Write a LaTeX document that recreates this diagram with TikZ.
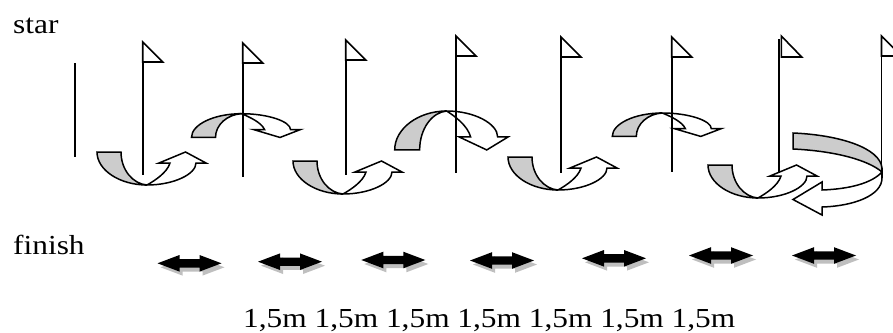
\documentclass[tikz,border=0pt]{standalone}
\usepackage{fontspec}
\setmainfont{Liberation Serif}
\tikzset{
  pole/.style={line width=1.9pt},
  flagtri/.style={draw=black, fill=white, line width=1.6pt},
  band/.style={draw=black, fill=black!20, line width=1.5pt},
  face/.style={draw=black, fill=white, line width=1.5pt},
  dblarrow/.style={fill=black},
  dblshadow/.style={fill=black!25},
  txt/.style={font=\fontsize{27.5}{30}\selectfont, inner sep=0pt, xscale=1.14, anchor=base west}
}
% curved band arrow: gray back strip on the left, white arrow on the right;
% #1,#2 = meeting point, #3,#4 = x and y scale (negative y scale turns it into an arch)
\newcommand\bandarrow[4]{%
  \begin{scope}[shift={(#1,#2)}, xscale=#3, yscale=#4]
    \filldraw[band] (-50,-33) .. controls (-50,-15) and (-27.5,0) .. (0,0)
      .. controls (-14,-1) and (-26,-15) .. (-26,-33) -- cycle;
    \filldraw[face] (0,0) .. controls (27,0) and (49,-11) .. (49,-22)
      -- (59,-22) -- (38.5,-33) -- (12,-22) -- (23,-22)
      .. controls (20,-12) and (7,-4) .. (0,0) -- cycle;
  \end{scope}}
% flag pole with a triangular flag; #1 = x, #2 = top, #3 = bottom
\newcommand\flagpole[3]{%
  \draw[pole] (#1,#2) -- (#1,#3);
  \draw[flagtri] (#1,#2) -- (#1+20,#2+20) -- (#1,#2+20) -- cycle;}
% black double-headed arrow with a gray drop shadow, centred at #1,#2
\newcommand\spanarrow[2]{%
  \begin{scope}[shift={(#1,#2)}]
    \fill[dblshadow] (-29,4) -- (-7,-4.3) -- (-7,-0.2) -- (13,-0.2) -- (13,-4.3) -- (35,4)
      -- (13,12.3) -- (13,8.2) -- (-7,8.2) -- (-7,12.3) -- cycle;
    \fill[dblarrow] (-32,0) -- (-10,-8.3) -- (-10,-4.2) -- (10,-4.2) -- (10,-8.3) -- (32,0)
      -- (10,8.3) -- (10,4.2) -- (-10,4.2) -- (-10,8.3) -- cycle;
  \end{scope}}
\begin{document}
\begin{tikzpicture}[x=1pt, y=-1pt]
  \useasboundingbox (0,0) rectangle (893,332);
  \clip (0,0) rectangle (893,332);

  % labels
  \node[txt] (start) at (13,33) {star};
  \node[txt] (finish) at (13,254) {finish};
  \node[txt] (dist) at (243,327) {1,5m 1,5m 1,5m 1,5m 1,5m 1,5m 1,5m};

  % start line
  \draw[pole] (75,63) -- (75,157);

  % curved arrows under and over the poles
  \bandarrow{147}{185}{1}{1}
  \bandarrow{241.5}{113.7}{1}{-0.72}
  \bandarrow{343}{194}{1}{1}
  \bandarrow{446.7}{111}{1.04}{-1.18}
  \bandarrow{558}{190}{1}{1}
  \bandarrow{662.3}{113}{1}{-0.71}
  \bandarrow{758}{198}{1}{1}

  % turning arrow round the last pole
  \filldraw[band] (793,133) .. controls (840,135) and (880,148) .. (882,168) -- (882,172)
    .. controls (868,160) and (835,151) .. (793,149) -- cycle;
  \filldraw[face] (882,172) .. controls (872,183) and (850,189) .. (822,190)
    -- (822,182) -- (793,199.5) -- (822,215) -- (822,207)
    .. controls (855,206) and (882,195) .. (882,178) -- cycle;

  % flag poles
  \flagpole{142.7}{42}{175}
  \flagpole{242.7}{43}{177}
  \flagpole{345.7}{40}{175}
  \flagpole{456}{36}{173}
  \flagpole{561}{37}{173}
  \flagpole{671.7}{37}{172}
  \draw[pole] (778.7,39) -- (778.7,173);
  \draw[flagtri] (781.3,36) -- (801.7,57) -- (781.3,57) -- cycle;
  \flagpole{881.5}{36}{180}

  % distance markers
  \spanarrow{189.5}{263.3}
  \spanarrow{290}{261.7}
  \spanarrow{393.3}{260}
  \spanarrow{502}{260.5}
  \spanarrow{614}{258.3}
  \spanarrow{721}{255.5}
  \spanarrow{824}{255.5}
\end{tikzpicture}
\end{document}
